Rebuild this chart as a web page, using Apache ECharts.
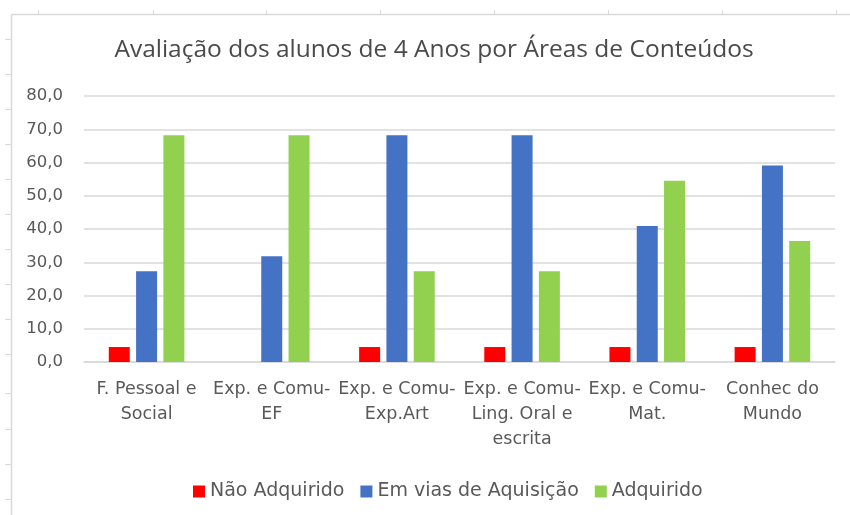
<!DOCTYPE html>
<html>
<head>
<meta charset="utf-8">
<script src="https://cdn.jsdelivr.net/npm/echarts@6/dist/echarts.min.js"></script>
<style>
  html, body { margin: 0; padding: 0; background: #fff; }
  #chart { width: 850px; height: 515px; }
</style>
</head>
<body>
<div id="chart"></div>
<script>
// categorias (eixo x)
var categories = [
  'F. Pessoal e\nSocial',
  'Exp. e Comu-\nEF',
  'Exp. e Comu-\nExp.Art',
  'Exp. e Comu-\nLing. Oral e\nescrita',
  'Exp. e Comu-\nMat.',
  'Conhec do\nMundo'
];
var seriesNames = ['Não Adquirido', 'Em vias de Aquisição', 'Adquirido'];
var naoAdquirido = [4.5, 0, 4.5, 4.5, 4.5, 4.5];
var emVias = [27.3, 31.8, 68.2, 68.2, 40.9, 59.1];
var adquirido = [68.2, 68.2, 27.3, 27.3, 54.5, 36.4];
var colors = ['#ff0000', '#4472c4', '#92d050'];

var txt = '#595959';
var font = 'DejaVu Sans';

var chart = echarts.init(document.getElementById('chart'));

// moldura da folha de cálculo (linhas e marcas cinzentas)
var frame = [
  { type: 'line', shape: { x1: 11.5, y1: 14.5, x2: 850, y2: 14.5 }, style: { stroke: '#d9d9d9', lineWidth: 1.5 } },
  { type: 'line', shape: { x1: 11.5, y1: 14.5, x2: 11.5, y2: 515 }, style: { stroke: '#d9d9d9', lineWidth: 1.5 } }
];
[38, 153, 266, 380, 494, 608, 722, 836].forEach(function (x) {
  frame.push({ type: 'line', shape: { x1: x + 0.5, y1: 10, x2: x + 0.5, y2: 14 }, style: { stroke: '#d9d9d9', lineWidth: 1 } });
});
[39, 74, 109, 144, 179, 214, 249, 284, 319, 354, 393, 429, 464, 499].forEach(function (y) {
  frame.push({ type: 'line', shape: { x1: 5, y1: y + 0.5, x2: 11, y2: y + 0.5 }, style: { stroke: '#d9d9d9', lineWidth: 1 } });
});

var option = {
  backgroundColor: '#fff',
  animation: false,
  color: colors,
  title: {
    text: 'Avaliação dos alunos de 4 Anos por Áreas de Conteúdos',
    left: 429,
    textAlign: 'center',
    top: 33,
    textStyle: { color: '#4a4a4a', fontFamily: 'Open Sans', fontSize: 24.5, fontWeight: 'normal' }
  },
  legend: {
    data: seriesNames,
    left: 188,
    top: 477,
    itemWidth: 12,
    itemHeight: 12,
    itemGap: 16,
    icon: 'rect',
    textStyle: { color: txt, fontFamily: font, fontSize: 19, padding: [0, 0, 0, 0] }
  },
  grid: { left: 84, right: 15, top: 96, bottom: 153 },
  graphic: frame,
  xAxis: {
    type: 'category',
    data: categories,
    axisLine: { lineStyle: { color: '#d9d9d9', width: 1.5 } },
    axisTick: { show: false },
    axisLabel: {
      color: txt, fontFamily: font, fontSize: 17.5, lineHeight: 25,
      margin: 15, interval: 0
    }
  },
  yAxis: {
    type: 'value',
    min: 0,
    max: 80,
    interval: 10,
    axisLine: { show: false },
    axisTick: { show: false },
    splitLine: { lineStyle: { color: '#d9d9d9', width: 1.5 } },
    axisLabel: {
      color: txt, fontFamily: font, fontSize: 16.5, margin: 21,
      formatter: function (v) { return v.toFixed(1).replace('.', ','); }
    }
  },
  series: [
    { name: seriesNames[0], type: 'bar', data: naoAdquirido, barWidth: 21, barGap: '30%', barCategoryGap: '40%' },
    { name: seriesNames[1], type: 'bar', data: emVias, barWidth: 21, barGap: '30%', barCategoryGap: '40%' },
    { name: seriesNames[2], type: 'bar', data: adquirido, barWidth: 21, barGap: '30%', barCategoryGap: '40%' }
  ]
};

chart.setOption(option);
</script>
</body>
</html>
